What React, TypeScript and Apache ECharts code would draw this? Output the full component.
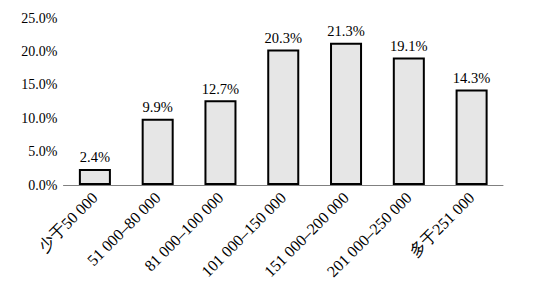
import React, { useEffect, useRef } from "react";
import * as echarts from "echarts";

const categories = [
  "少于50 000",
  "51 000–80 000",
  "81 000–100 000",
  "101 000–150 000",
  "151 000–200 000",
  "201 000–250 000",
  "多于251 000",
];
const values = [2.4, 9.9, 12.7, 20.3, 21.3, 19.1, 14.3];

export default function App() {
  const ref = useRef<HTMLDivElement>(null);
  useEffect(() => {
    document.body.style.margin = "0";
    const chart = echarts.init(ref.current!, null, { renderer: "svg" });
    const font = "Liberation Serif";
    chart.setOption({
      animation: false,
      textStyle: { fontFamily: font },
      grid: { left: 63.5, right: 31, top: 18, bottom: 108 },
      xAxis: {
        type: "category",
        data: categories,
        axisLine: { lineStyle: { color: "#808080", width: 1 } },
        axisTick: { show: false },
        axisLabel: {
          rotate: 45,
          interval: 0,
          margin: 10,
          color: "#000",
          fontFamily: font,
          fontSize: 16,
        },
      },
      yAxis: {
        type: "value",
        min: 0,
        max: 25,
        interval: 5,
        splitLine: { show: false },
        axisLine: { show: false },
        axisTick: { show: false },
        axisLabel: {
          margin: 6,
          color: "#000",
          fontFamily: font,
          fontSize: 14,
          formatter: (v: number) => v.toFixed(1) + "%",
        },
      },
      series: [
        {
          type: "bar",
          data: values,
          barWidth: "51%",
          itemStyle: { color: "#e6e6e6", borderColor: "#000", borderWidth: 2 },
          label: {
            show: true,
            position: "top",
            distance: 4,
            color: "#000",
            fontFamily: font,
            fontSize: 14.5,
            formatter: (p: any) => p.value.toFixed(1) + "%",
          },
        },
      ],
    });
    return () => chart.dispose();
  }, []);
  return <div ref={ref} style={{ width: 534, height: 293 }} />;
}
